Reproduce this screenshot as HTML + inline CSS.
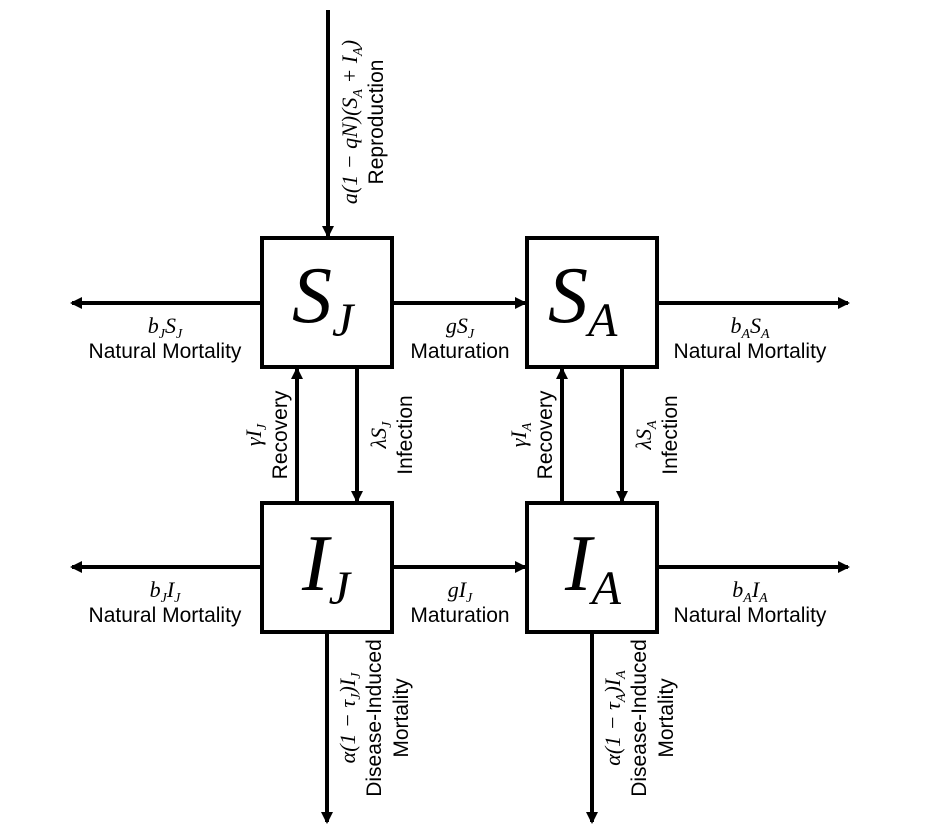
<!DOCTYPE html>
<html><head><meta charset="utf-8"><style>
html,body{margin:0;padding:0;background:#fff;}
svg{display:block;}
.lab{font-family:"Liberation Sans",sans-serif;font-size:21px;fill:#000;}
.m{font-family:"Liberation Serif",serif;font-style:italic;font-size:22px;fill:#000;}
.big{font-family:"Liberation Serif",serif;font-style:italic;font-size:80px;fill:#000;}
.sub{font-size:48px;}
</style></head><body>
<svg width="945" height="827" viewBox="0 0 945 827">
<defs><marker id="ah" markerWidth="12" markerHeight="12" refX="10" refY="6" orient="auto" markerUnits="userSpaceOnUse"><path d="M0,0 L12,6 L0,12 Z" fill="#000"/></marker></defs>
<g stroke="#000" stroke-width="4" fill="none" marker-end="url(#ah)">
<line x1="328" y1="10" x2="328" y2="236"/>
<line x1="260" y1="303" x2="72" y2="303"/>
<line x1="394" y1="303" x2="525" y2="303"/>
<line x1="659" y1="303" x2="848" y2="303"/>
<line x1="260" y1="567" x2="72" y2="567"/>
<line x1="394" y1="567" x2="525" y2="567"/>
<line x1="659" y1="567" x2="848" y2="567"/>
<line x1="297" y1="501" x2="297" y2="369"/>
<line x1="357" y1="369" x2="357" y2="501"/>
<line x1="562" y1="501" x2="562" y2="369"/>
<line x1="622" y1="369" x2="622" y2="501"/>
<line x1="327" y1="634" x2="327" y2="822"/>
<line x1="592" y1="634" x2="592" y2="822"/>
</g>
<g stroke="#000" stroke-width="4" fill="#fff">
<rect x="262" y="238" width="130" height="129"/>
<rect x="527" y="238" width="130" height="129"/>
<rect x="262" y="503" width="130" height="129"/>
<rect x="527" y="503" width="130" height="129"/>
</g>
<text class="big" x="292" y="322">S<tspan class="sub" dy="14">J</tspan></text>
<text class="big" x="548" y="322">S<tspan class="sub" dy="14">A</tspan></text>
<text class="big" x="302" y="590">I<tspan class="sub" dy="14">J</tspan></text>
<text class="big" x="565" y="590">I<tspan class="sub" dy="14">A</tspan></text>

<text class="m" x="165" y="333" text-anchor="middle">b<tspan font-size="14" dy="5">J</tspan><tspan dy="-5">S</tspan><tspan font-size="14" dy="5">J</tspan></text>
<text class="lab" x="165" y="358" text-anchor="middle">Natural Mortality</text>
<text class="m" x="460" y="333" text-anchor="middle">gS<tspan font-size="14" dy="5">J</tspan></text>
<text class="lab" x="460" y="358" text-anchor="middle">Maturation</text>
<text class="m" x="750" y="333" text-anchor="middle">b<tspan font-size="14" dy="5">A</tspan><tspan dy="-5">S</tspan><tspan font-size="14" dy="5">A</tspan></text>
<text class="lab" x="750" y="358" text-anchor="middle">Natural Mortality</text>

<text class="m" x="165" y="597" text-anchor="middle">b<tspan font-size="14" dy="5">J</tspan><tspan dy="-5">I</tspan><tspan font-size="14" dy="5">J</tspan></text>
<text class="lab" x="165" y="622" text-anchor="middle">Natural Mortality</text>
<text class="m" x="460" y="597" text-anchor="middle">gI<tspan font-size="14" dy="5">J</tspan></text>
<text class="lab" x="460" y="622" text-anchor="middle">Maturation</text>
<text class="m" x="750" y="597" text-anchor="middle">b<tspan font-size="14" dy="5">A</tspan><tspan dy="-5">I</tspan><tspan font-size="14" dy="5">A</tspan></text>
<text class="lab" x="750" y="622" text-anchor="middle">Natural Mortality</text>

<text class="m" transform="translate(357,122) rotate(-90)" text-anchor="middle">a(1 − qN)(S<tspan font-size="14" dy="5">A</tspan><tspan dy="-5"> + I</tspan><tspan font-size="14" dy="5">A</tspan><tspan dy="-5">)</tspan></text>
<text class="lab" transform="translate(383,122) rotate(-90)" text-anchor="middle">Reproduction</text>

<text class="m" transform="translate(261,435) rotate(-90)" text-anchor="middle">γI<tspan font-size="14" dy="5">J</tspan></text>
<text class="lab" transform="translate(287,435) rotate(-90)" text-anchor="middle">Recovery</text>
<text class="m" transform="translate(386,435) rotate(-90)" text-anchor="middle">λS<tspan font-size="14" dy="5">J</tspan></text>
<text class="lab" transform="translate(412,435) rotate(-90)" text-anchor="middle">Infection</text>
<text class="m" transform="translate(526,435) rotate(-90)" text-anchor="middle">γI<tspan font-size="14" dy="5">A</tspan></text>
<text class="lab" transform="translate(552,435) rotate(-90)" text-anchor="middle">Recovery</text>
<text class="m" transform="translate(651,435) rotate(-90)" text-anchor="middle">λS<tspan font-size="14" dy="5">A</tspan></text>
<text class="lab" transform="translate(677,435) rotate(-90)" text-anchor="middle">Infection</text>

<text class="m" transform="translate(355,718) rotate(-90)" text-anchor="middle">α(1 − τ<tspan font-size="14" dy="5">J</tspan><tspan dy="-5">)I</tspan><tspan font-size="14" dy="5">J</tspan></text>
<text class="lab" transform="translate(381,718) rotate(-90)" text-anchor="middle">Disease-Induced</text>
<text class="lab" transform="translate(408,718) rotate(-90)" text-anchor="middle">Mortality</text>
<text class="m" transform="translate(620,718) rotate(-90)" text-anchor="middle">α(1 − τ<tspan font-size="14" dy="5">A</tspan><tspan dy="-5">)I</tspan><tspan font-size="14" dy="5">A</tspan></text>
<text class="lab" transform="translate(646,718) rotate(-90)" text-anchor="middle">Disease-Induced</text>
<text class="lab" transform="translate(673,718) rotate(-90)" text-anchor="middle">Mortality</text>
</svg>
</body></html>
